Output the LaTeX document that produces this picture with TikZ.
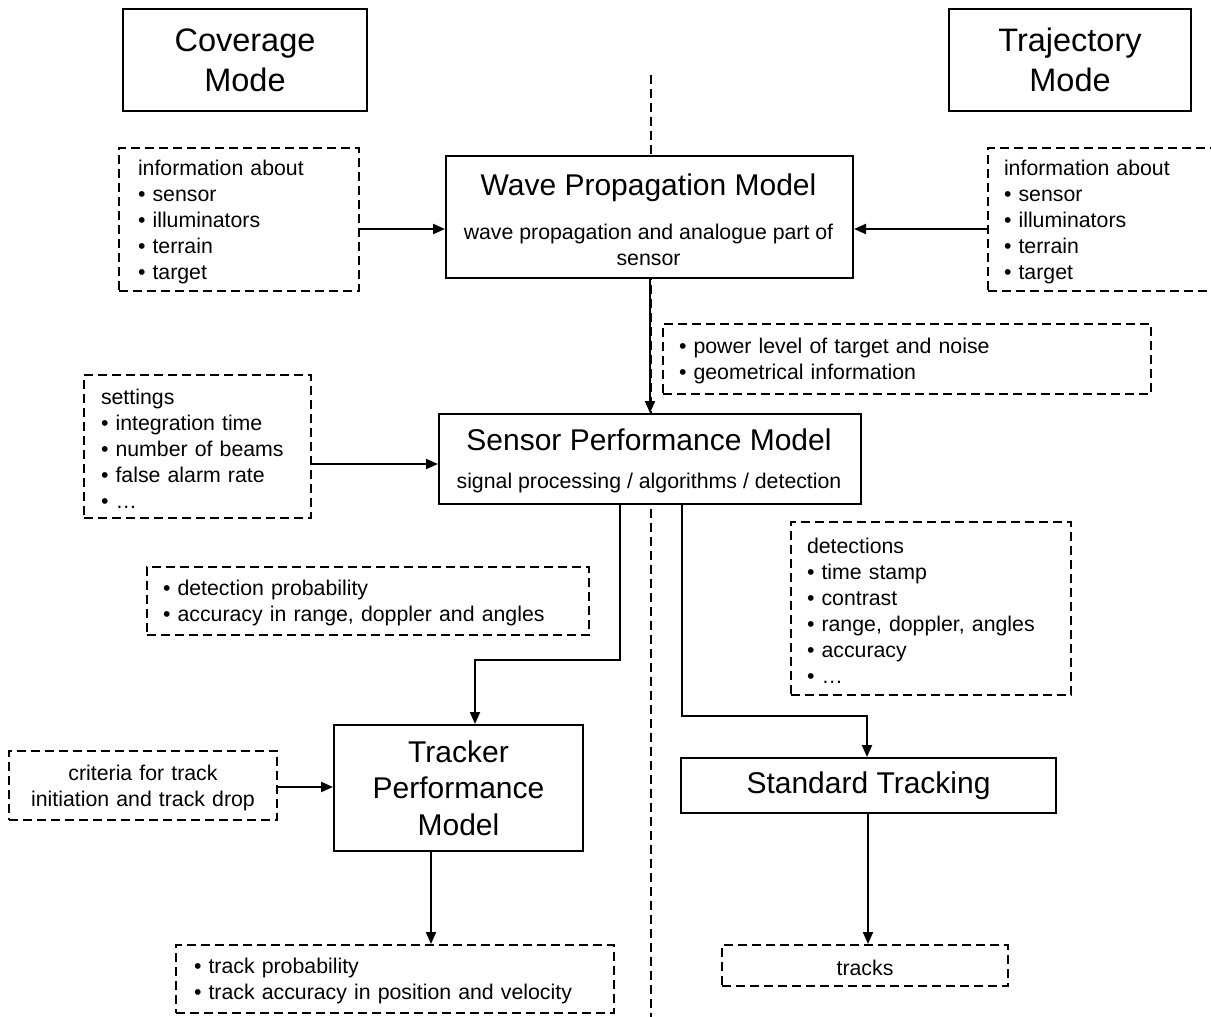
\documentclass[tikz,border=0pt]{standalone}
\usepackage{fontspec}
\setmainfont{Liberation Sans}
\usetikzlibrary{arrows.meta}
\begin{document}
\begin{tikzpicture}[x=1pt,y=-1pt,
 sbox/.style={draw, line width=2pt, fill=white, inner sep=0pt, anchor=north west},
 dbox/.style={draw, line width=2pt, dash pattern=on 9pt off 5pt, fill=white, anchor=north west, inner ysep=0pt,
   execute at begin node={\rule{0pt}{20pt}}},
 sm/.style={font=\fontsize{21.3}{26}\selectfont},
 ttl/.style={font=\fontsize{30}{36.5}\selectfont},
 big/.style={font=\fontsize{32.5}{40}\selectfont},
 arr/.style={line width=2pt, -{Triangle[length=12pt,width=10pt]}},
 vline/.style={line width=2pt, dash pattern=on 9pt off 5pt}]

\clip (0,0) rectangle (1211,1017);

% central dashed divider
\coordinate (vtop) at (651,75);
\coordinate (vbot) at (651,1020);
\draw[vline] (vtop) -- (vbot);

% mode boxes
\node[sbox, big, align=center, minimum width=244pt, minimum height=102pt,
  execute at begin node={\rule{0pt}{28pt}}] (cov) at (122,8) {Coverage\\Mode};
\node[sbox, big, align=center, minimum width=242pt, minimum height=102pt,
  execute at begin node={\rule{0pt}{28pt}}] (traj) at (948,8) {Trajectory\\Mode};

% wave propagation model
\node[sbox, minimum width=407pt, minimum height=122pt] (wave) at (445,155) {};
\node[ttl] (wavet) at (648.5,188) {Wave Propagation Model};
\node[sm, align=center] (waves) at (648.5,244.5) {wave propagation and analogue part of\\sensor};

% sensor performance model
\node[sbox, minimum width=422pt, minimum height=90pt] (sensor) at (438,413) {};
\node[ttl] (sensort) at (649,440) {Sensor Performance Model};
\node[sm] (sensors) at (649,483) {signal processing / algorithms / detection};

% tracker performance model
\node[sbox, ttl, align=center, minimum width=249pt, minimum height=126pt] (tracker) at (333,724) {Tracker\\Performance\\Model};

% standard tracking
\node[sbox, ttl, minimum width=375pt, minimum height=55pt] (standard) at (680,757) {Standard Tracking};

% dashed info boxes
\node[dbox, sm, align=left, inner xsep=19pt, text width=202pt, minimum width=240pt, minimum height=143pt] (infoL) at (118,147)
 {information about\\• sensor\\• illuminators\\• terrain\\• target};
\node[dbox, sm, align=left, inner xsep=16pt, text width=208pt, minimum width=240pt, minimum height=143pt] (infoR) at (987,147)
 {information about\\• sensor\\• illuminators\\• terrain\\• target};
\node[dbox, sm, align=left, inner xsep=16pt, text width=456pt, minimum width=488pt, minimum height=70pt] (power) at (662,323)
 {• power level of target and noise\\• geometrical information};
\node[dbox, sm, align=left, inner xsep=17pt, text width=193pt, minimum width=227pt, minimum height=143pt] (settings) at (83,374)
 {settings\\• integration time\\• number of beams\\• false alarm rate\\• …};
\node[dbox, sm, align=left, inner xsep=16pt, text width=410pt, minimum width=442pt, minimum height=68pt] (detprob) at (146,566)
 {• detection probability\\• accuracy in range, doppler and angles};
\node[dbox, sm, align=left, inner xsep=16pt, text width=248pt, minimum width=280pt, minimum height=173pt] (detections) at (790,521)
 {detections\\• time stamp\\• contrast\\• range, doppler, angles\\• accuracy\\• …};
\node[dbox, sm, align=center, inner xsep=8pt, text width=252pt, minimum width=268pt, minimum height=69pt] (criteria) at (8,750)
 {criteria for track\\initiation and track drop};
\node[dbox, sm, align=left, inner xsep=18pt, text width=402pt, minimum width=438pt, minimum height=68pt] (trackprob) at (175,944)
 {• track probability\\• track accuracy in position and velocity};
\node[dbox, sm, align=center, inner xsep=8pt, text width=270pt, minimum width=286pt, minimum height=41pt] (tracks) at (721,944)
 {tracks};

% connectors
\draw[arr] (infoL.east |- 0,229) -- (wave.west |- 0,229);
\draw[arr] (infoR.west |- 0,229) -- (wave.east |- 0,229);
\draw[arr] (wave.south -| 650,0) -- (sensor.north -| 650,0);
\draw[arr] (settings.east |- 0,464) -- (sensor.west |- 0,464);
\draw[arr] (sensor.south -| 620,0) -- (620,660) -- (475,660) -- (tracker.north -| 475,0);
\draw[arr] (sensor.south -| 682,0) -- (682,716) -- (867,716) -- (standard.north -| 867,0);
\draw[arr] (criteria.east |- 0,787) -- (tracker.west |- 0,787);
\draw[arr] (tracker.south -| 431,0) -- (trackprob.north -| 431,0);
\draw[arr] (standard.south -| 868,0) -- (tracks.north -| 868,0);
\end{tikzpicture}
\end{document}
